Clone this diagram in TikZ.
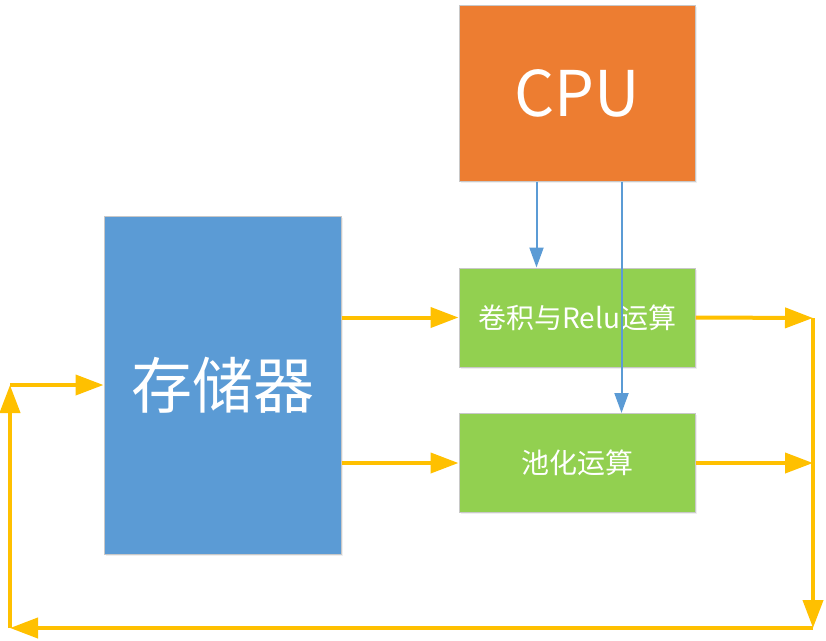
\documentclass[tikz,border=0pt]{standalone}
\usepackage{fontspec}
\usepackage{xcolor}
\usetikzlibrary{arrows.meta, positioning, calc, shadows}
\setmainfont{Noto Sans CJK SC}
\definecolor{cpuorange}{RGB}{237,125,49}
\definecolor{memblue}{RGB}{91,155,213}
\definecolor{opgreen}{RGB}{146,208,80}
\definecolor{flowyellow}{RGB}{255,192,0}
\definecolor{ctrlblue}{RGB}{91,155,213}
\definecolor{edgegray}{RGB}{200,200,200}
\tikzset{every node/.append style={align=center}}
\tikzset{
  unit/.style={rectangle, draw=edgegray, line width=1pt, text=white,
    drop shadow={shadow xshift=1.5pt, shadow yshift=-1.5pt, fill=black!12}},
  cpubox/.style={unit, fill=cpuorange, minimum width=236pt, minimum height=176pt,
    font=\fontsize{63}{72}\selectfont},
  membox/.style={unit, fill=memblue, minimum width=237pt, minimum height=338pt,
    font=\fontsize{61}{70}\selectfont},
  opbox/.style={unit, fill=opgreen, minimum width=236pt, minimum height=99pt,
    font=\fontsize{28}{34}\selectfont},
  flow/.style={-{Triangle[length=28pt, width=20pt]}, line width=4pt, flowyellow},
  ctrl/.style={-{Triangle[length=20pt, width=14pt]}, line width=2pt, ctrlblue}
}
\begin{document}
\begin{tikzpicture}[x=1pt, y=-1pt]
  \useasboundingbox (0,0) rectangle (826,640);
  \node[cpubox] (cpu) at (577,93) {CPU};
  \node[membox] (mem) at (222.5,385) {存储器};
  \node[opbox] (conv) at (577,317.5) {卷积与Relu运算};
  \node[opbox] (pool) at (577,463) {池化运算};
  % return path
  \coordinate (r1) at (813,318);
  \coordinate (r2) at (813,463);
  \coordinate (rb) at (813,628);
  \coordinate (lb) at (10,628);
  \coordinate (lt) at (10,385);
  \draw[flow] (mem.east |- conv.west) -- (conv.west);
  \draw[flow] (mem.east |- pool.west) -- (pool.west);
  \draw[flow] (conv.east) -- (r1);
  \draw[flow] (pool.east) -- (r2);
  \draw[flow] (r1) -- (rb);
  \draw[flow] (rb) -- (lb);
  \draw[flow] (lb) -- (lt);
  \draw[flow] (lt) -- (mem.west);
  % control from CPU
  \draw[ctrl] ([xshift=78pt]cpu.south west) -- ([xshift=78pt]conv.north west);
  \draw[ctrl] ([xshift=163pt]cpu.south west) -- ([xshift=163pt]pool.north west);
\end{tikzpicture}
\end{document}
